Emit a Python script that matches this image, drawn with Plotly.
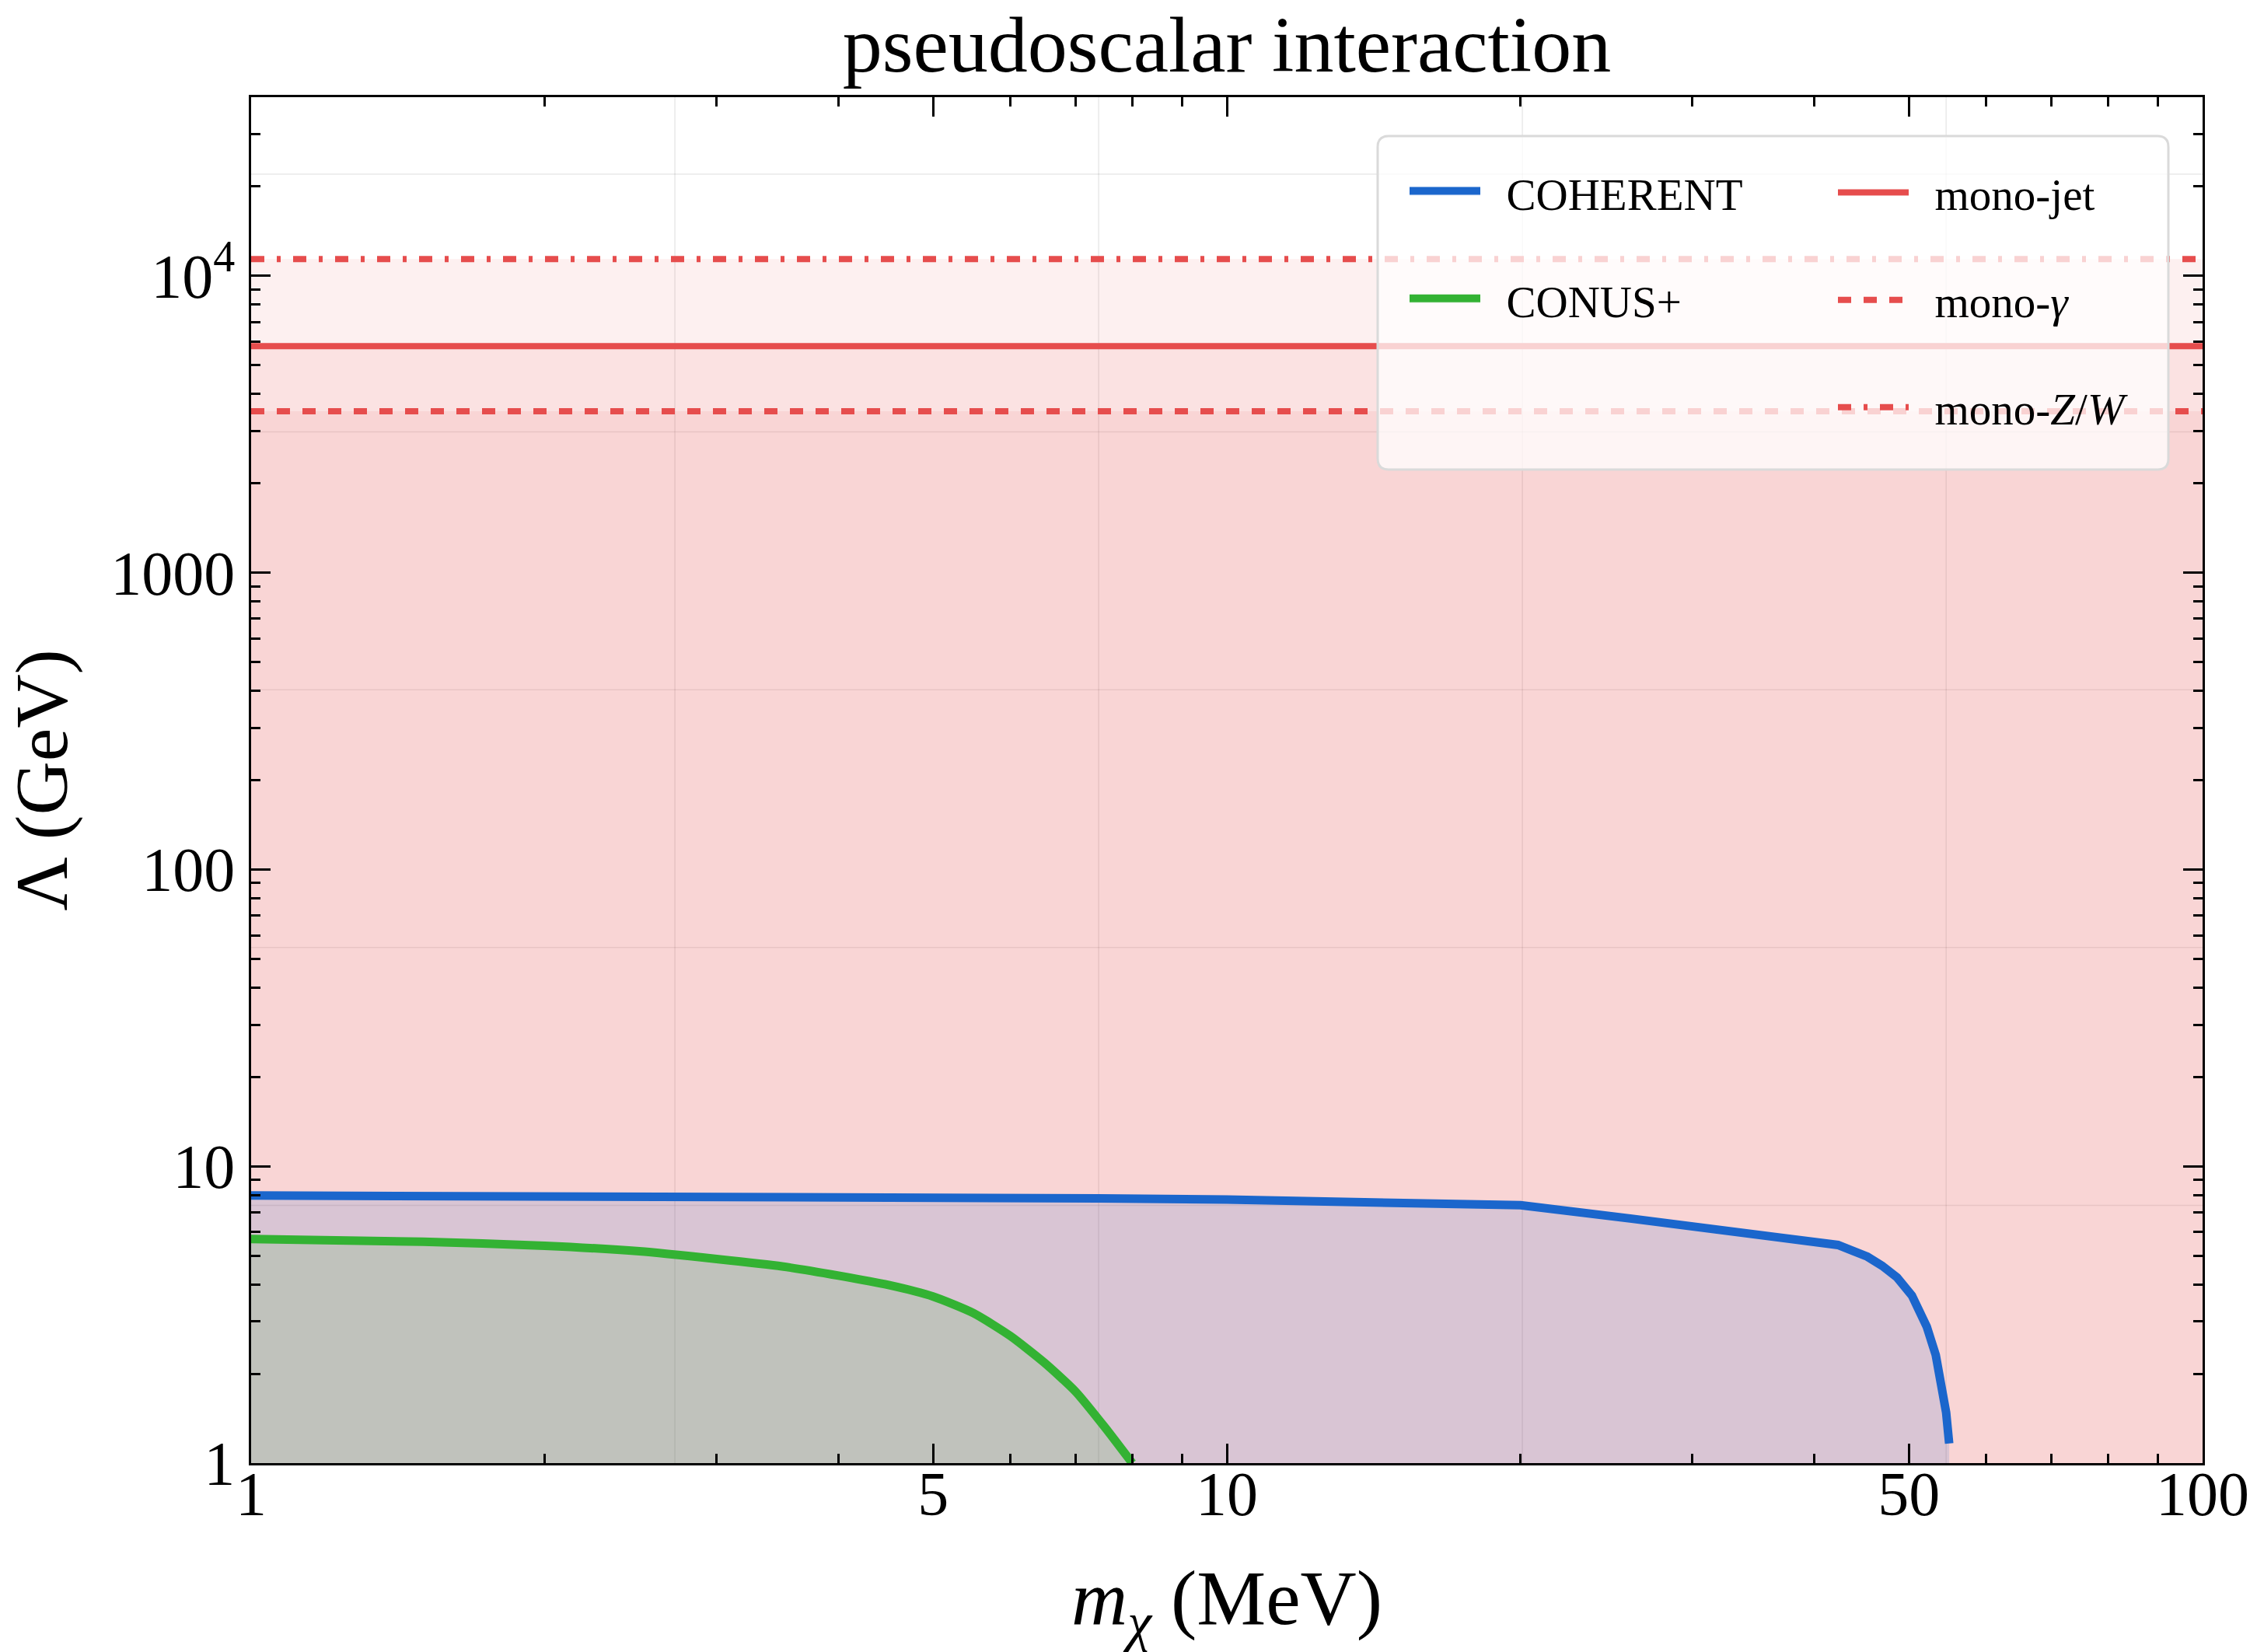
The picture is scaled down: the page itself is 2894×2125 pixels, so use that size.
import numpy as np
import plotly.graph_objects as go

# ---------------- data ----------------
X_RANGE = [1, 100]          # m_chi (MeV)
Y_RANGE = [1, 4e4]          # Lambda (GeV)

COHERENT_M = [1, 2, 4.16, 7.39, 10, 13.4, 20, 26, 30, 34.6, 40, 42.3, 43.78, 45.34,
              46.95, 48.63, 50.36, 52.16, 53.28, 54.03, 54.6, 54.99]
COHERENT_L = [7.97, 7.94, 7.88, 7.80, 7.72, 7.60, 7.39, 6.66, 6.26, 5.91, 5.58, 5.43, 5.19, 4.96,
              4.62, 4.22, 3.67, 2.88, 2.31, 1.81, 1.48, 1.165]

CONUS_M = [1, 1.5, 2, 2.5, 3, 3.5, 4, 4.5, 5, 5.5, 6, 6.5, 7, 7.5, 8.0]
CONUS_L = [5.69, 5.57, 5.40, 5.17, 4.87, 4.60, 4.28, 3.98, 3.64, 3.20, 2.68, 2.18, 1.74, 1.32, 1.0]

MONO_NAMES = ["mono-jet", "mono-<i>γ</i>", "mono-<i>Z</i>/<i>W</i>"]
MONO_L = [5800, 3500, 11400]
MONO_DASH = ["solid", "17px,16px", "17px,16px,5px,16px"]

X_TICKS = [1, 5, 10, 50, 100]
X_TICKTEXT = ["1", "5", "10", "50", "100"]
X_MINOR = [2, 3, 4, 6, 7, 8, 9, 20, 30, 40, 60, 70, 80, 90]
Y_TICKS = [1, 10, 100, 1000, 1e4]
Y_TICKTEXT = ["1", "10", "100", "1000", "10<sup>4</sup>"]
Y_MINOR = [k * 10 ** d for d in range(4) for k in range(2, 10)] + [2e4, 3e4]
GRID_X = [np.e ** k for k in (1, 2, 3, 4)]
GRID_Y = [np.e ** k for k in (2, 4, 6, 8, 10)]

# ---------------- style ----------------
RED = "rgb(230,77,77)"
RED_FILL = "rgba(230,77,77,0.085)"
BLUE = "rgb(27,102,204)"
BLUE_FILL = "rgba(27,102,204,0.145)"
GREEN = "rgb(51,178,51)"
GREEN_FILL = "rgba(51,178,51,0.145)"
GRID = "rgba(0,0,0,0.09)"
FONT = "Liberation Serif"
GAP = "\u00a0\u00a0"   # gap between legend symbol and its text

W, H = 2894, 2125
L, R, T, B = 323, 61, 125, 243
PW, PH = W - L - R, H - T - B


def px_x(px):
    return (px - L) / PW


def px_y(py):
    return (H - B - py) / PH


fig = go.Figure()

# grid lines (behind everything)
for gx in GRID_X:
    fig.add_trace(go.Scatter(x=[gx, gx], y=Y_RANGE, mode="lines",
                             line=dict(color=GRID, width=1.5),
                             showlegend=False, hoverinfo="skip"))
for gy in GRID_Y:
    fig.add_trace(go.Scatter(x=X_RANGE, y=[gy, gy], mode="lines",
                             line=dict(color=GRID, width=1.5),
                             showlegend=False, hoverinfo="skip"))

# collider shaded regions
for v in MONO_L:
    fig.add_trace(go.Scatter(x=[X_RANGE[0], X_RANGE[1], X_RANGE[1], X_RANGE[0]],
                             y=[Y_RANGE[0], Y_RANGE[0], v, v],
                             fill="toself", fillcolor=RED_FILL, mode="none",
                             showlegend=False, hoverinfo="skip"))

# COHERENT: baseline at the axis floor, then curve filled down to it
fig.add_trace(go.Scatter(x=[COHERENT_M[0], COHERENT_M[-1]], y=[Y_RANGE[0], Y_RANGE[0]],
                         mode="lines", line=dict(width=0, color="rgba(0,0,0,0)"),
                         showlegend=False, hoverinfo="skip"))
fig.add_trace(go.Scatter(x=COHERENT_M, y=COHERENT_L, mode="lines", name=GAP + "COHERENT",
                         fill="tonexty", fillcolor=BLUE_FILL,
                         line=dict(color=BLUE, width=11), legend="legend",
                         legendgroup="coh"))
# CONUS+
fig.add_trace(go.Scatter(x=[CONUS_M[0], CONUS_M[-1]], y=[Y_RANGE[0], Y_RANGE[0]],
                         mode="lines", line=dict(width=0, color="rgba(0,0,0,0)"),
                         showlegend=False, hoverinfo="skip"))
fig.add_trace(go.Scatter(x=CONUS_M, y=CONUS_L, mode="lines", name=GAP + "CONUS+",
                         fill="tonexty", fillcolor=GREEN_FILL,
                         line=dict(color=GREEN, width=11, shape="spline", smoothing=0.6),
                         legend="legend", legendgroup="conus"))

for name, v, dash in zip(MONO_NAMES, MONO_L, MONO_DASH):
    fig.add_trace(go.Scatter(x=X_RANGE, y=[v, v], mode="lines", name=GAP + name,
                             line=dict(color=RED, width=8, dash=dash),
                             legend="legend2", legendgroup=name))

# legend box (rounded rectangle)
bx0, bx1 = px_x(1772), px_x(2789)
by0, by1 = px_y(604), px_y(175)
rx, ry = 14 / PW, 14 / PH
path = (f"M{bx0+rx},{by0} L{bx1-rx},{by0} Q{bx1},{by0} {bx1},{by0+ry} "
        f"L{bx1},{by1-ry} Q{bx1},{by1} {bx1-rx},{by1} L{bx0+rx},{by1} "
        f"Q{bx0},{by1} {bx0},{by1-ry} L{bx0},{by0+ry} Q{bx0},{by0} {bx0+rx},{by0} Z")
fig.add_shape(type="path", path=path, xref="paper", yref="paper",
              fillcolor="rgba(255,255,255,0.75)",
              line=dict(color="rgb(218,218,218)", width=3), layer="above")

axis_common = dict(
    type="log", showline=True, linecolor="black", linewidth=2.5, mirror="ticks",
    ticks="inside", ticklen=25, tickwidth=2.5, tickcolor="black",
    showgrid=False, zeroline=False, automargin=False,
    tickfont=dict(family=FONT, size=80, color="black"),
)

legend_common = dict(
    bgcolor="rgba(0,0,0,0)", borderwidth=0,
    font=dict(family=FONT, size=57, color="black"),
    itemwidth=91, tracegroupgap=61, xanchor="left", yanchor="top",
    orientation="v", traceorder="grouped",
)

fig.update_layout(
    width=W, height=H, autosize=False,
    margin=dict(l=L, r=R, t=T, b=B),
    paper_bgcolor="white", plot_bgcolor="white",
    font=dict(family=FONT, color="black"),
    title=dict(text="pseudoscalar interaction", x=0.5, xref="paper", xanchor="center",
               y=1 - 56 / H, yref="container", yanchor="middle",
               font=dict(family=FONT, size=102, color="black")),
    xaxis=dict(**axis_common, range=[np.log10(X_RANGE[0]), np.log10(X_RANGE[1])],
               tickvals=X_TICKS, ticktext=X_TICKTEXT, ticklabelstandoff=-32,
               minor=dict(tickvals=X_MINOR, ticks="inside", ticklen=12, tickwidth=2.5,
                          tickcolor="black", showgrid=False),
               title=dict(text="<i>m</i><sub><i>χ</i></sub> (MeV)", standoff=76,
                          font=dict(family=FONT, size=100, color="black"))),
    yaxis=dict(**axis_common, range=[np.log10(Y_RANGE[0]), np.log10(Y_RANGE[1])],
               tickvals=Y_TICKS, ticktext=Y_TICKTEXT, ticklabelstandoff=2,
               minor=dict(tickvals=Y_MINOR, ticks="inside", ticklen=12, tickwidth=2.5,
                          tickcolor="black", showgrid=False),
               title=dict(text="Λ (GeV)", standoff=64,
                          font=dict(family=FONT, size=96, color="black"))),
    legend=dict(**legend_common, x=px_x(1808), y=px_y(204)),
    legend2=dict(**legend_common, x=px_x(2359), y=px_y(204)),
)

fig.write_html("out.html")
